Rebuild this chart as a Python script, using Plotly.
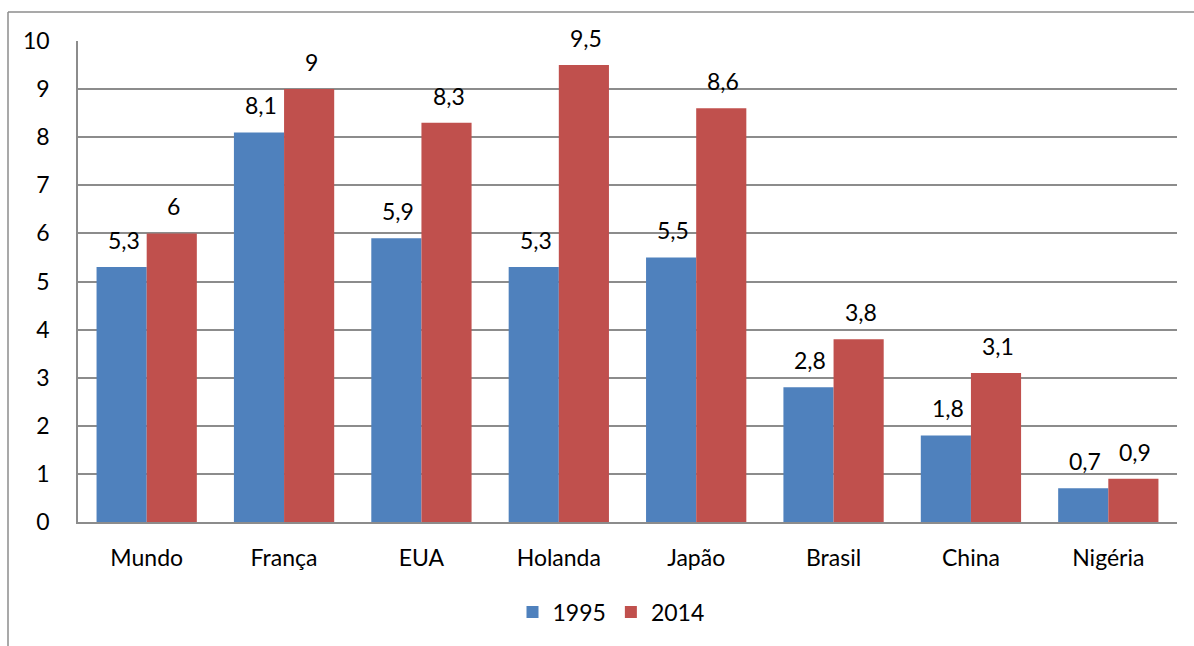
import plotly.graph_objects as go

categories = ["Mundo", "França", "EUA", "Holanda", "Japão", "Brasil", "China", "Nigéria"]
values_1995 = [5.3, 8.1, 5.9, 5.3, 5.5, 2.8, 1.8, 0.7]
values_2014 = [6, 9, 8.3, 9.5, 8.6, 3.8, 3.1, 0.9]
y_ticks = list(range(0, 11))

FONT = "Lato"
FS = 23
W, H = 1194, 646
L, R, T, B = 78, 17, 41, 124
pw, ph = W - L - R, H - T - B
BARGAP = 0.27
bar_px = pw / len(categories) * (1 - BARGAP) / 2


def fmt(v):
    s = f"{v:g}"
    return s.replace(".", ",")


fig = go.Figure()
fig.add_trace(go.Bar(
    name="1995", x=categories, y=values_1995,
    marker=dict(color="#4f81bd", line=dict(width=0)),
))
fig.add_trace(go.Bar(
    name="2014", x=categories, y=values_2014,
    marker=dict(color="#c0504d", line=dict(width=0)),
))

# value labels above each bar
for series, shift in ((values_1995, -bar_px / 2), (values_2014, bar_px / 2)):
    for cat, v in zip(categories, series):
        fig.add_annotation(x=cat, y=v, xref="x", yref="y", text=fmt(v), showarrow=False,
                           xshift=shift + 2, yshift=27, yanchor="middle",
                           font=dict(size=FS, family=FONT, color="#000000"))


# outer chart frame (left and top edges)
def px_x(x):
    return (x - L) / pw


def px_y(y):
    return (H - B - y) / ph


fig.add_shape(type="line", xref="paper", yref="paper",
              x0=px_x(8), x1=px_x(8), y0=px_y(12), y1=px_y(646),
              line=dict(color="#8c8c8c", width=1.5))
fig.add_shape(type="line", xref="paper", yref="paper",
              x0=px_x(8), x1=px_x(1194), y0=px_y(12), y1=px_y(12),
              line=dict(color="#8c8c8c", width=1.5))

fig.update_layout(
    width=W, height=H,
    margin=dict(l=L, r=R, t=T, b=B),
    plot_bgcolor="white", paper_bgcolor="white",
    barmode="group", bargap=BARGAP, bargroupgap=0,
    font=dict(family=FONT, size=FS, color="#000000"),
    showlegend=True,
    legend=dict(orientation="h", x=px_x(611), xanchor="center", y=px_y(612), yanchor="middle",
                font=dict(size=FS, family=FONT), itemwidth=30, traceorder="normal"),
)
fig.update_yaxes(range=[0, 10], tickvals=y_ticks, showgrid=True, gridcolor="#8c8c8c", gridwidth=1.5,
                 showline=True, linecolor="#8c8c8c", linewidth=1.5, ticks="", ticklabelstandoff=22,
                 tickfont=dict(size=FS, family=FONT), zeroline=False)
fig.update_xaxes(showline=True, linecolor="#8c8c8c", linewidth=1.5, ticks="",
                 tickfont=dict(size=FS, family=FONT), ticklabelstandoff=15)

fig.write_html("out.html")
